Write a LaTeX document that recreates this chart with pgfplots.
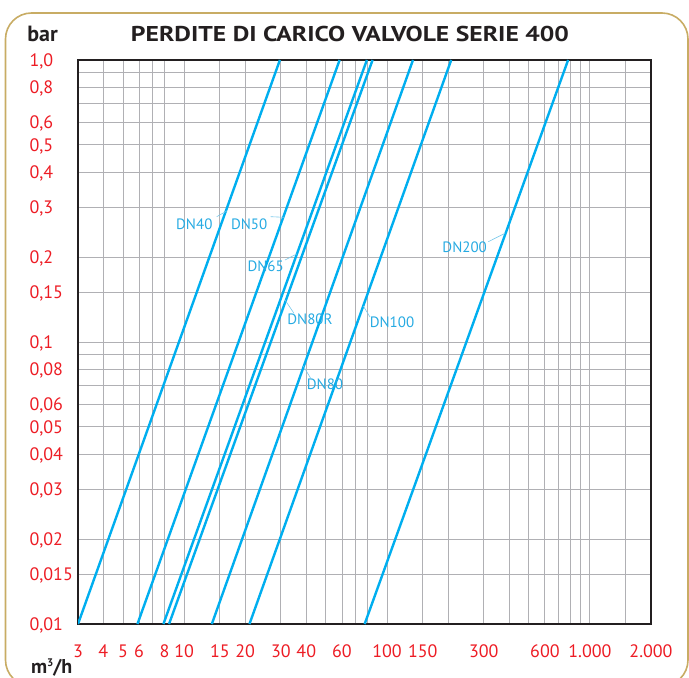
\documentclass[border=0pt]{standalone}
\usepackage{fontspec}
\setmainfont{PT Sans}
\usepackage{graphicx}
\usepackage{pgfplots}
\pgfplotsset{compat=1.18}
\definecolor{lineblue}{RGB}{0,174,239}
\definecolor{labblue}{RGB}{38,170,226}
\definecolor{leadblue}{RGB}{120,200,235}
\definecolor{tickred}{RGB}{237,28,36}
\definecolor{boxblack}{RGB}{35,31,32}
\definecolor{gridgray}{RGB}{176,176,180}
\definecolor{framegold}{RGB}{200,172,100}
\begin{document}
\begin{tikzpicture}[x=1pt,y=1pt]
\useasboundingbox (0,0) rectangle (689,678);
\begin{scope}
\clip (0,0) rectangle (689,678);
\draw[framegold, line width=1.6pt, rounded corners=26pt] (5.5,-8) rectangle (688,665);
\end{scope}
\begin{axis}[
  at={(78pt,54pt)}, anchor=south west, scale only axis,
  width=573pt, height=564pt,
  xmode=log, ymode=log,
  xmin=3, xmax=2000, ymin=0.01, ymax=1,
  xtick={3,4,5,6,8,10,15,20,30,40,60,100,150,300,600,1000,2000},
  xticklabels={3,4,5,6,8,10,15,20,30,40,60,100,150,300,600,1.000,2.000},
  minor xtick={7,50,70,80,200,400,500,700,800,900,1500},
  ytick={0.01,0.015,0.02,0.03,0.04,0.05,0.06,0.08,0.1,0.15,0.2,0.3,0.4,0.5,0.6,0.8,1},
  yticklabels={{0,01},{0,015},{0,02},{0,03},{0,04},{0,05},{0,06},{0,08},{0,1},{0,15},{0,2},{0,3},{0,4},{0,5},{0,6},{0,8},{1,0}},
  minor ytick={0.07,0.09,0.7,0.9},
  grid=both,
  major grid style={gridgray, line width=0.9pt},
  minor grid style={gridgray, line width=0.9pt},
  major tick length=0pt, minor tick length=0pt,
  axis line style={boxblack, line width=2.2pt},
  tick label style={font=\fontsize{18}{18}\selectfont, text=tickred},
  xticklabel style={anchor=base, yshift=-33.7pt},
  yticklabel style={anchor=base west, xshift=-52pt, yshift=-6.3pt},
]
\addplot[lineblue, line width=2.4pt] coordinates {(3,0.01) (29.66,1)};   % DN40
\addplot[lineblue, line width=2.4pt] coordinates {(5.89,0.01) (58.4,1)};  % DN50
\addplot[lineblue, line width=2.4pt] coordinates {(7.91,0.01) (79.6,1)};  % DN65
\addplot[lineblue, line width=2.4pt] coordinates {(8.43,0.01) (84.9,1)};  % DN80R
\addplot[lineblue, line width=2.4pt] coordinates {(13.7,0.01) (134.3,1)}; % DN80
\addplot[lineblue, line width=2.4pt] coordinates {(21.0,0.01) (207.2,1)}; % DN100
\addplot[lineblue, line width=2.4pt] coordinates {(77.6,0.01) (780.9,1)}; % DN200
\end{axis}
\tikzset{lab/.style={labblue, font=\fontsize{15}{15}\selectfont, inner sep=0pt}}
\node[lab] at (194.3,454) {DN40};
\draw[leadblue, line width=0.6pt] (216.7,461.3) -- (227.3,467.3);
\node[lab] at (249.2,454) {DN50};
\draw[leadblue, line width=0.6pt] (270.7,461.3) -- (284,460.7);
\node[lab] at (265.7,411.3) {DN65};
\draw[leadblue, line width=0.6pt] (285,418) -- (296.7,424);
\node[lab] at (310,359) {DN80R};
\draw[leadblue, line width=0.6pt] (294,364.7) -- (285,378);
\node[lab] at (392,356) {DN100};
\draw[leadblue, line width=0.6pt] (370,361) -- (363.3,372);
\node[lab] at (325,294) {DN80};
\draw[leadblue, line width=0.6pt] (311.7,298) -- (303.3,312);
\node[lab] at (464.7,430.5) {DN200};
\draw[leadblue, line width=0.6pt] (488.3,436.3) -- (505,444.7);
\node[anchor=base, inner sep=0pt, text=boxblack] at (350,636.3) {\resizebox{438pt}{15.3pt}{\bfseries PERDITE DI CARICO VALVOLE SERIE 400}};
\node[anchor=base west, inner sep=0pt, text=boxblack, font=\bfseries\fontsize{22}{22}\selectfont] at (27.2,636.3) {bar};
\node[anchor=base west, inner sep=0pt, text=boxblack, font=\bfseries\fontsize{20}{20}\selectfont] at (30.8,4.7) {m{\fontsize{11}{11}\selectfont\raisebox{7pt}{3}}/h};
\end{tikzpicture}
\end{document}
